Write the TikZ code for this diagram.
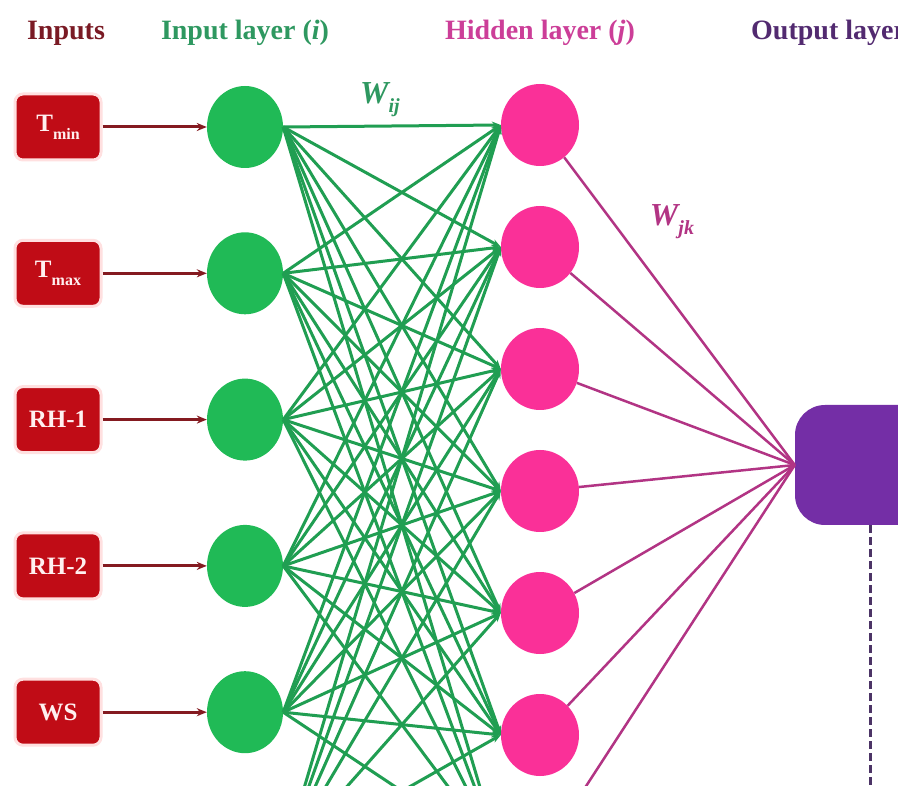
\documentclass[tikz,border=0pt]{standalone}
\usepackage{fontspec}
\setmainfont{Liberation Serif}
\usetikzlibrary{arrows.meta, shapes.geometric}
\definecolor{boxred}{RGB}{192,12,22}
\definecolor{titlered}{RGB}{122,26,36}
\definecolor{arrowred}{RGB}{132,26,32}
\definecolor{nodegreen}{RGB}{32,186,86}
\definecolor{linegreen}{RGB}{32,158,82}
\definecolor{titlegreen}{RGB}{46,152,96}
\definecolor{nodepink}{RGB}{250,48,152}
\definecolor{linepink}{RGB}{178,52,132}
\definecolor{titlepink}{RGB}{204,62,152}
\definecolor{outpurple}{RGB}{116,46,166}
\definecolor{titlepurple}{RGB}{82,42,112}
\definecolor{dashpurple}{RGB}{76,52,102}
\newcommand{\tsub}[1]{{\fontsize{16}{17}\selectfont\raisebox{-8pt}{#1}}}
\newcommand{\wsub}[1]{{\fontsize{20}{20}\selectfont\raisebox{-9pt}{#1}}}
\tikzset{
  title/.style={font=\bfseries\fontsize{28}{30}\selectfont, inner sep=0pt},
  inbox/.style={rectangle, rounded corners=8pt, fill=boxred, draw=red!12,
    line width=3pt, minimum width=86pt, minimum height=66pt, text=red!6,
    font=\bfseries\fontsize{25}{27}\selectfont},
  innode/.style={ellipse, fill=nodegreen, minimum width=76pt,
    minimum height=82pt, inner sep=0pt},
  hidnode/.style={ellipse, fill=nodepink, minimum width=78pt,
    minimum height=82pt, inner sep=0pt},
  outbox/.style={rectangle, rounded corners=30pt, fill=outpurple,
    minimum width=210pt, minimum height=120pt},
  inarrow/.style={arrowred, line width=3pt, -{Stealth[length=10pt,width=8pt]}},
  wijline/.style={linegreen, line width=3pt, -{Stealth[length=9pt,width=7pt]}},
  wjkline/.style={linepink, line width=2.5pt},
  weight/.style={font=\bfseries\itshape\fontsize{32}{34}\selectfont, inner sep=0pt}
}
\begin{document}
\begin{tikzpicture}[x=1pt, y=-1pt]
  \useasboundingbox (0,0) rectangle (898,786);
  \clip (0,0) rectangle (898,786);
  \fill[white] (0,0) rectangle (898,786);

  % layer titles
  \node[title, text=titlered] (tin) at (66,33) {Inputs};
  \node[title, text=titlegreen] (tinl) at (245,33) {Input layer (\textit{i})};
  \node[title, text=titlepink] (thid) at (540,33) {Hidden layer (\textit{j})};
  \node[title, text=titlepurple, anchor=west] (tout) at (751,33) {Output layer};

  % inputs and input layer
  \foreach \lab [count=\i] in {T\tsub{min}, T\tsub{max}, RH-1, RH-2, WS}
  {
    \node[inbox] (box\i) at (58,{127+146.3*(\i-1)}) {\lab};
    \node[innode] (in\i) at (245,{127+146.3*(\i-1)}) {};
    \draw[inarrow] (box\i) -- (in\i);
  }
  \node[innode] (in6) at (245,858.5) {};

  % hidden layer and output
  \foreach \j in {1,...,7}
    \node[hidnode] (hid\j) at (540,{125+122*(\j-1)}) {};
  \node[outbox] (out) at (900,465) {};

  % connections
  \foreach \i in {1,...,6}
    \foreach \j in {1,...,7}
      \draw[wijline] (in\i.east) -- (hid\j.west);
  \foreach \j in {1,...,7}
    \draw[wjkline] (hid\j) -- (out.west);

  \coordinate (outend) at (870,800);
  \draw[dashpurple, line width=3pt, dash pattern=on 8pt off 4pt]
    (outend |- out.south) -- (outend);

  % weights
  \node[weight, text=titlegreen] (wij) at (380,100) {W\wsub{ij}};
  \node[weight, text=linepink] (wjk) at (672,222) {W\wsub{jk}};
\end{tikzpicture}
\end{document}
